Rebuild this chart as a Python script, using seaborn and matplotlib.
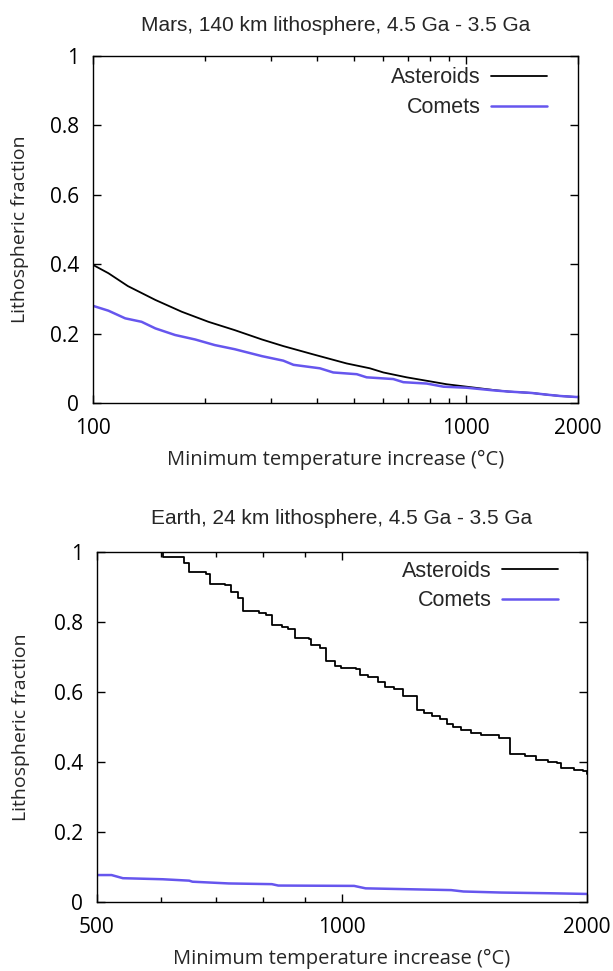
import numpy as np
import pandas as pd
import matplotlib
matplotlib.use("Agg")
import matplotlib.pyplot as plt
from matplotlib.ticker import FixedLocator, FixedFormatter, FuncFormatter
import seaborn as sns

# ---- data ----
# Mars, 140 km lithosphere
mars_ast_T = [100, 110, 124, 147, 173, 204, 240, 284, 324, 390, 479, 553, 601, 694, 786, 889, 1005, 1197, 1300, 1500, 1650, 1800, 2000]
mars_ast_f = [0.398, 0.374, 0.337, 0.297, 0.263, 0.234, 0.210, 0.183, 0.164, 0.140, 0.114, 0.100, 0.088, 0.074, 0.064, 0.054, 0.047, 0.037, 0.033, 0.029, 0.024, 0.020, 0.017]

mars_com_T = [100, 110, 122, 135, 147, 166, 188, 212, 240, 284, 324, 345, 406, 441, 510, 542, 639, 680, 786, 871, 1005, 1197, 1300, 1500, 1650, 1800, 2000]
mars_com_f = [0.280, 0.266, 0.244, 0.234, 0.215, 0.196, 0.183, 0.167, 0.155, 0.135, 0.122, 0.110, 0.100, 0.088, 0.083, 0.074, 0.069, 0.060, 0.056, 0.047, 0.044, 0.036, 0.033, 0.029, 0.024, 0.020, 0.017]

# Earth, 24 km lithosphere
earth_ast_T = [595, 603, 640, 649, 680, 688, 719, 730, 745, 755, 790, 806, 820, 845, 859, 876, 911, 915, 940, 957,
               980, 997, 1041, 1051, 1077, 1107, 1130, 1160, 1188, 1235, 1260, 1290, 1318, 1345, 1370, 1400, 1440, 1480, 1560, 1610,
               1680, 1730, 1790, 1837, 1860, 1930, 1976, 2000]
earth_ast_f = [1.02, 0.985, 0.968, 0.942, 0.938, 0.910, 0.906, 0.887, 0.868, 0.832, 0.826, 0.820, 0.791, 0.785, 0.779, 0.753, 0.751, 0.734, 0.725, 0.689,
               0.675, 0.668, 0.666, 0.649, 0.644, 0.630, 0.615, 0.610, 0.590, 0.548, 0.540, 0.532, 0.522, 0.510, 0.500, 0.492, 0.484, 0.476, 0.470, 0.424,
               0.418, 0.405, 0.400, 0.397, 0.382, 0.378, 0.375, 0.365]

earth_com_T = [500, 521, 538, 602, 649, 655, 726, 820, 835, 1035, 1069, 1362, 1410, 1570, 1800, 1900, 2000]
earth_com_f = [0.077, 0.077, 0.068, 0.065, 0.061, 0.058, 0.053, 0.051, 0.047, 0.046, 0.039, 0.034, 0.030, 0.027, 0.025, 0.024, 0.023]

titles = ["Mars, 140 km lithosphere, 4.5 Ga - 3.5 Ga", "Earth, 24 km lithosphere, 4.5 Ga - 3.5 Ga"]
xlabel = "Minimum temperature increase (°C)"
ylabel = "Lithospheric fraction"
y_ticks = [0, 0.2, 0.4, 0.6, 0.8, 1]

ast_color = "black"
com_color = "#6656ee"

sns.set_style("ticks")
plt.rcParams['font.family'] = ['Open Sans', 'DejaVu Sans']
plt.rcParams['axes.linewidth'] = 1.0

fig = plt.figure(figsize=(6.13, 9.71), dpi=100)
ax1 = fig.add_axes([93/613, 1-403/971, 485/613, 347/971])
ax2 = fig.add_axes([97/613, 1-902/971, 490/613, 350/971])

def style_axis(ax, xlim, major, minor, title, title_pad, leg_anchor):
    ax.set_xscale("log")
    ax.set_xlim(*xlim)
    ax.set_ylim(0, 1)
    ax.xaxis.set_major_locator(FixedLocator(major))
    ax.xaxis.set_major_formatter(FixedFormatter([str(m) for m in major]))
    ax.xaxis.set_minor_locator(FixedLocator(minor))
    ax.xaxis.set_minor_formatter(FixedFormatter([]))
    ax.set_yticks(y_ticks)
    ax.yaxis.set_major_formatter(FuncFormatter(lambda v, p: "%g" % v))
    for s in ax.spines.values():
        s.set_visible(True)
        s.set_linewidth(1.0)
        s.set_color("black")
    ax.tick_params(which="both", direction="in", top=True, right=True, colors="black", width=1.0)
    ax.tick_params(which="major", length=6, labelsize=15)
    ax.tick_params(which="minor", length=3.5)
    ax.tick_params(axis="x", pad=11)
    ax.tick_params(axis="y", pad=10)
    ax.set_xlabel(xlabel, fontsize=14.5, labelpad=8)
    ax.set_ylabel(ylabel, fontsize=14)
    ax.set_title(title, fontsize=15, family=["Liberation Sans"], pad=title_pad)
    ax.legend(loc="upper right", bbox_to_anchor=leg_anchor, frameon=False, markerfirst=False,
              prop={"family": "Liberation Sans", "size": 15.5}, handlelength=2.6, handletextpad=0.5,
              labelspacing=0.4, borderpad=0, borderaxespad=0)

sns.lineplot(x=mars_ast_T, y=mars_ast_f, ax=ax1, color=ast_color, lw=1.3, label="Asteroids")
sns.lineplot(x=mars_com_T, y=mars_com_f, ax=ax1, color=com_color, lw=1.8, label="Comets")
style_axis(ax1, (100, 2000), [100, 1000, 2000], [200, 300, 400, 500, 600, 700, 800, 900],
           titles[0], 18, ((547-93)/485, 0.967))
ax1.yaxis.set_label_coords(-0.132, 0.5)

sns.lineplot(x=earth_ast_T, y=earth_ast_f, ax=ax2, color=ast_color, lw=1.3, label="Asteroids",
             drawstyle="steps-post")
sns.lineplot(x=earth_com_T, y=earth_com_f, ax=ax2, color=com_color, lw=1.8, label="Comets")
style_axis(ax2, (500, 2000), [500, 1000, 2000], [600, 700, 800, 900],
           titles[1], 20, ((558-97)/490, 0.975))
ax2.yaxis.set_label_coords(-0.137, 0.5)

fig.savefig("out.png", dpi=100)
